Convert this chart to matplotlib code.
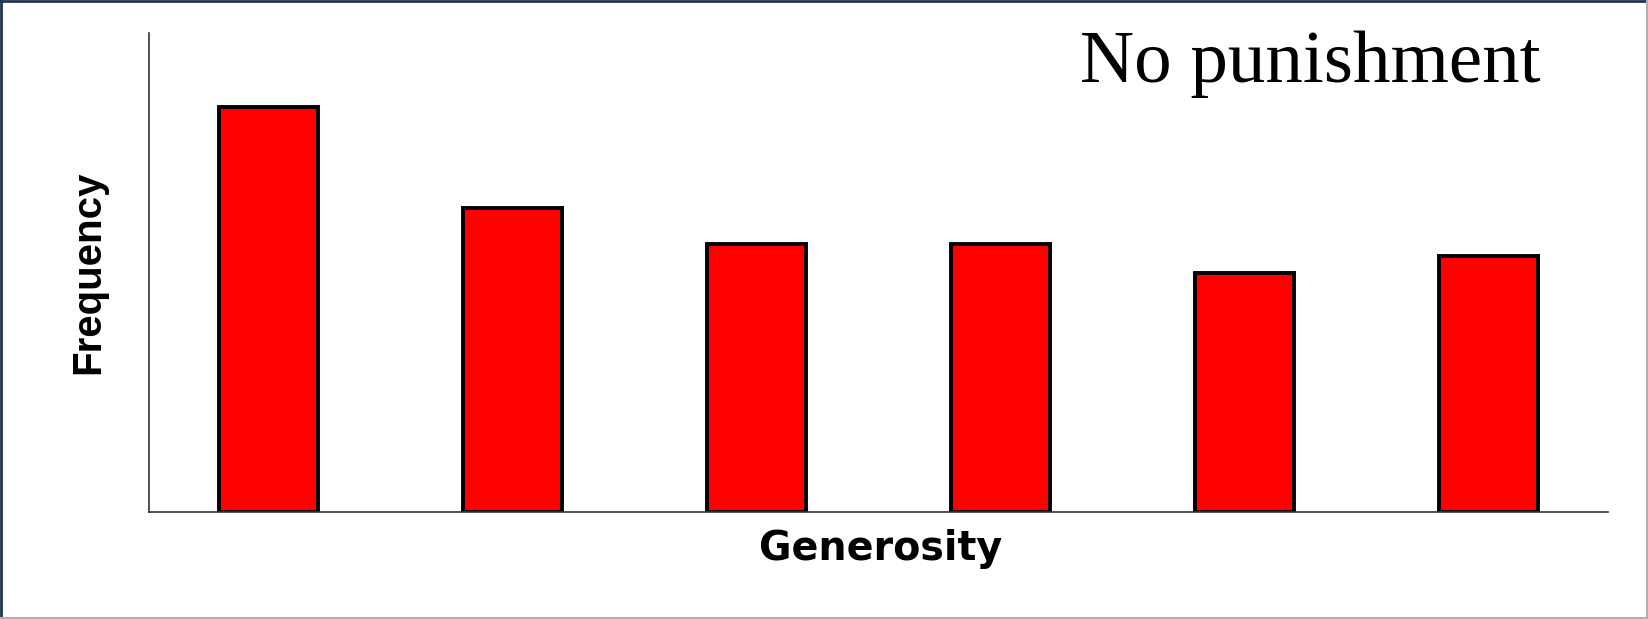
import matplotlib
matplotlib.use("Agg")
import matplotlib.pyplot as plt
from matplotlib.lines import Line2D

# Data (relative frequencies; axis has no tick labels)
categories = ["1", "2", "3", "4", "5", "6"]
frequency = [84.5, 63.5, 56.0, 56.0, 50.0, 53.5]
title_text = "No punishment"
xlabel_text = "Generosity"
ylabel_text = "Frequency"

fig = plt.figure(figsize=(16.48, 6.19), dpi=100)
ax = fig.add_axes([149 / 1648, 1 - 512 / 619, (1608 - 149) / 1648, (512 - 33) / 619])

x = list(range(len(categories)))
ax.bar(x, frequency, width=0.405, color="#FF0000", edgecolor="black", linewidth=2.8)

ax.set_xlim(-0.49, len(categories) - 1 + 0.49)
ax.set_ylim(0, 100)
ax.set_xticks([])
ax.set_yticks([])
for s in ["top", "right"]:
    ax.spines[s].set_visible(False)
for s in ["left", "bottom"]:
    ax.spines[s].set_color("#333333")
    ax.spines[s].set_linewidth(1.2)

fig.text(1080 / 1648, 1 - 82 / 619, title_text, family="Liberation Serif",
         fontsize=54, ha="left", va="baseline", color="black")
fig.text(881 / 1648, 1 - 560 / 619, xlabel_text, family="DejaVu Sans",
         fontweight="bold", fontsize=28.5, ha="center", va="baseline", color="black")
fig.text(88 / 1648, 1 - 272 / 619, ylabel_text, family="Liberation Sans",
         fontweight="bold", fontsize=29, rotation=90, ha="center", va="center",
         color="black")

# figure frame
fig.add_artist(Line2D([0, 1], [0.999, 0.999], transform=fig.transFigure, color="#1f3350", lw=2))
fig.add_artist(Line2D([0.0006, 0.0006], [0, 1], transform=fig.transFigure, color="#1f3350", lw=2))
fig.add_artist(Line2D([0, 1], [0.001, 0.001], transform=fig.transFigure, color="#b0b0b0", lw=1.5))
fig.add_artist(Line2D([0.9994, 0.9994], [0, 1], transform=fig.transFigure, color="#b0b0b0", lw=1.5))

fig.savefig("out.png", dpi=100)
